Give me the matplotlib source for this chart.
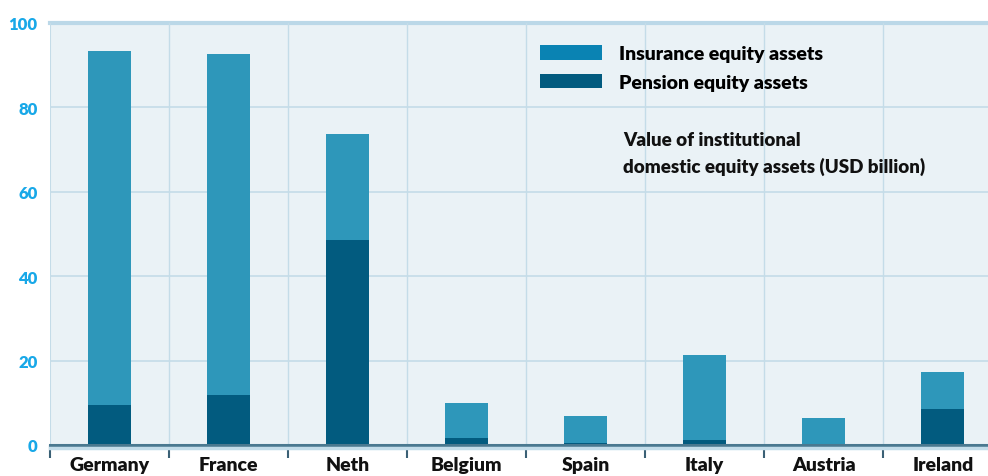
import matplotlib
matplotlib.use("Agg")
import matplotlib.pyplot as plt
import numpy as np
from matplotlib.patches import Patch

countries = ["Germany", "France", "Neth", "Belgium", "Spain", "Italy", "Austria", "Ireland"]
pension = [9.5, 11.8, 48.6, 1.7, 0.4, 1.2, 0.3, 8.5]
total = [93.4, 92.7, 73.7, 10.0, 6.9, 21.3, 6.4, 17.3]
insurance = [t - p for t, p in zip(total, pension)]
yticks = [0, 20, 40, 60, 80, 100]

plt.rcParams['font.family'] = ['Lato', 'DejaVu Sans']

W, H = 988, 477
fig = plt.figure(figsize=(W / 100, H / 100), dpi=100)
fig.patch.set_facecolor('white')
left, right, top, bottom = 50, 988, 24, 446
ax = fig.add_axes([left / W, (H - bottom) / H, (right - left) / W, (bottom - top) / H])
ax.set_facecolor('#EAF2F6')

x = np.arange(len(countries))
ins_col = '#2E97BA'
pen_col = '#025B7F'
bw = 0.36
ax.bar(x, pension, width=bw, color=pen_col, zorder=3)
ax.bar(x, insurance, bottom=pension, width=bw, color=ins_col, zorder=3,
       edgecolor='white', linewidth=0)

# grid
for yv in yticks[1:-1]:
    ax.axhline(yv, color='#C4DCE8', lw=1.2, zorder=1)
ax.axhline(100, color='#BBD8E8', lw=3, zorder=1, clip_on=False)
for b in np.arange(-0.5, 8, 1.0)[1:]:
    ax.axvline(b, color='#C4DCE8', lw=1.0, zorder=1)
ax.axvline(-0.5, color='#C4DCE8', lw=1.5, zorder=1)

for s in ax.spines.values():
    s.set_visible(False)

ax.set_yticks(yticks)
ax.set_yticklabels([str(v) for v in yticks], color='#18A8E8', fontsize=12, fontweight='heavy')
ax.tick_params(axis='y', length=0, pad=9)

ax.set_xticks(np.arange(-0.5, 8, 1.0))
ax.set_xticklabels([])
ax.tick_params(axis='x', direction='out', length=9, width=1.5, color='#3A6075', pad=0)
ax.set_xticks(x, minor=True)
ax.set_xticklabels(countries, minor=True, fontsize=14, fontweight='heavy', color='#111111')
ax.tick_params(axis='x', which='minor', length=0, pad=8)

ax.set_xlim(-0.5, 7.38)
ax.set_ylim(0, 100)

# zero line
ax.plot([-0.5, 7.38], [0, 0], color='#4A7990', lw=2.2, zorder=4, clip_on=False)
ax.plot([-0.5, 7.38], [-0.6, -0.6], color='#C3DDEA', lw=2.5, zorder=4, clip_on=False)
ax.set_xlim(-0.5, 7.38)
ax.set_ylim(0, 100)

handles = [Patch(facecolor='#0A83B3', label='Insurance equity assets'),
           Patch(facecolor=pen_col, label='Pension equity assets')]
leg = ax.legend(handles=handles, loc='upper left', bbox_to_anchor=(0.504, 0.99),
                frameon=False, handlelength=3.15, handleheight=0.8,
                handletextpad=0.9, labelspacing=0.6, prop={'weight': 'heavy', 'size': 14})

ax.text(0.611, 0.745, 'Value of institutional\ndomestic equity assets (USD billion)',
        transform=ax.transAxes, fontsize=13.5, fontweight='heavy', color='#111111',
        va='top', ha='left', linespacing=1.6)

fig.savefig('out.png', dpi=100, facecolor='white')
